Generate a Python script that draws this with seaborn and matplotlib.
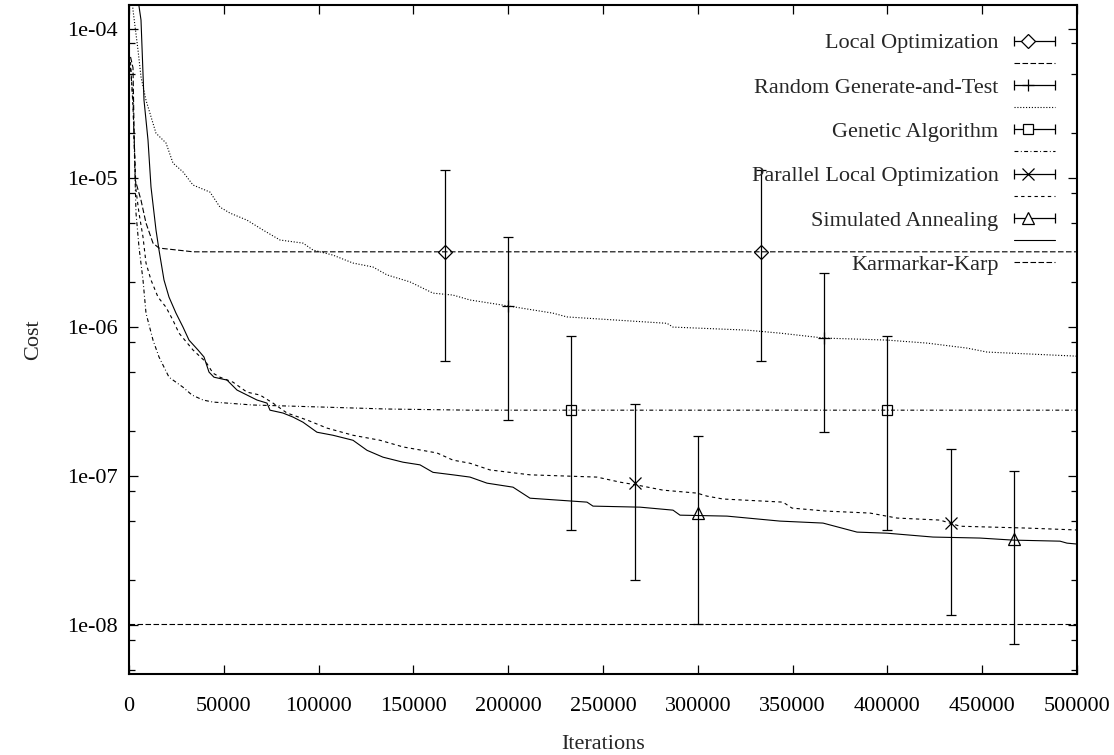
import matplotlib
matplotlib.use("Agg")
import matplotlib.pyplot as plt
import matplotlib.ticker as mticker
from matplotlib.legend_handler import HandlerBase
from matplotlib.lines import Line2D
import numpy as np
import seaborn as sns

# best-so-far curves (iterations, cost)
sa_x = [4700, 6329, 7911, 10021, 11603, 14241, 15823, 18460, 21097, 24789, 28481, 31646, 36392, 39557,
        42194, 44831, 51688, 56962, 62236, 67511, 72785, 74367, 81224, 86498, 91772, 99156, 107595,
        118143, 125527, 133966, 144515, 153481, 160338, 170886, 179852, 188819, 202532, 211498, 241561,
        244726, 269515, 286920, 290612, 315401, 343354, 366034, 383966, 399789, 424051, 448840, 466245,
        491034, 494726, 500000]
sa_y = [1.6e-4, 1.15e-4, 3.33e-5, 1.8e-5, 8.71e-6, 4.48e-6, 3.29e-6, 2.07e-6, 1.59e-6, 1.24e-6, 1.0e-6,
        8.18e-7, 7.02e-7, 6.3e-7, 4.99e-7, 4.61e-7, 4.41e-7, 3.78e-7, 3.5e-7, 3.24e-7, 3.09e-7, 2.77e-7,
        2.65e-7, 2.49e-7, 2.3e-7, 1.97e-7, 1.88e-7, 1.74e-7, 1.49e-7, 1.34e-7, 1.24e-7, 1.19e-7, 1.06e-7,
        1.02e-7, 9.85e-8, 8.97e-8, 8.43e-8, 7.11e-8, 6.69e-8, 6.29e-8, 6.19e-8, 5.91e-8, 5.47e-8, 5.39e-8,
        4.99e-8, 4.84e-8, 4.21e-8, 4.14e-8, 3.9e-8, 3.84e-8, 3.72e-8, 3.66e-8, 3.55e-8, 3.5e-8]

rgt_x = [1500, 2110, 4747, 6329, 8966, 14241, 19515, 23207, 28481, 33755, 42722, 47996, 53270, 62236,
         70675, 79641, 91772, 97046, 107595, 118143, 128692, 136076, 148207, 160338, 170886, 179852,
         200949, 223629, 231013, 283755, 286920, 325949, 343354, 366561, 399789, 420886, 441983, 452532,
         500000]
rgt_y = [1.7e-4, 1.34e-4, 7.23e-5, 4.77e-5, 3.33e-5, 2.0e-5, 1.72e-5, 1.26e-5, 1.1e-5, 8.98e-6, 8.05e-6,
         6.38e-6, 5.82e-6, 5.22e-6, 4.48e-6, 3.84e-6, 3.66e-6, 3.29e-6, 3.04e-6, 2.69e-6, 2.53e-6, 2.24e-6,
         2.01e-6, 1.69e-6, 1.64e-6, 1.52e-6, 1.38e-6, 1.24e-6, 1.17e-6, 1.06e-6, 1.0e-6, 9.54e-7, 9.11e-7,
         8.44e-7, 8.18e-7, 7.81e-7, 7.23e-7, 6.8e-7, 6.38e-7]

lo_x = [800, 2110, 2700, 3300, 6329, 8966, 12658, 15823, 30063, 33755, 500000]
lo_y = [6.5e-5, 5.5e-5, 2.0e-5, 9.7e-6, 7.11e-6, 4.99e-6, 3.66e-6, 3.39e-6, 3.24e-6, 3.2e-6, 3.2e-6]

plo_x = [800, 2110, 3692, 5274, 7384, 8966, 11603, 15295, 19515, 23207, 26371, 33755, 40612, 44304,
         47996, 54852, 62236, 69093, 75949, 83333, 93882, 104430, 118143, 132384, 144515, 162447, 170886,
         179852, 190401, 211498, 246835, 258966, 267932, 281646, 299578, 304852, 313291, 344937, 349684,
         368143, 390823, 405063, 427743, 438291, 473629, 500000]
plo_y = [6.0e-5, 3.0e-5, 8.3e-6, 5.82e-6, 4.02e-6, 2.69e-6, 2.07e-6, 1.59e-6, 1.36e-6, 1.11e-6, 9.11e-7,
         7.02e-7, 5.82e-7, 4.91e-7, 4.61e-7, 4.27e-7, 3.66e-7, 3.5e-7, 3.09e-7, 2.65e-7, 2.38e-7, 2.1e-7,
         1.88e-7, 1.74e-7, 1.57e-7, 1.43e-7, 1.28e-7, 1.22e-7, 1.1e-7, 1.02e-7, 9.85e-8, 9.11e-8, 8.71e-8,
         8.05e-8, 7.69e-8, 7.34e-8, 7.02e-8, 6.69e-8, 6.1e-8, 5.82e-8, 5.65e-8, 5.23e-8, 5.07e-8, 4.61e-8,
         4.48e-8, 4.35e-8]

ga_x = [800, 2110, 3692, 5274, 7384, 8966, 12658, 15823, 21097, 28481, 33228, 39030, 44304, 65401,
        100738, 136076, 179852, 500000]
ga_y = [5.5e-5, 3.33e-5, 5.82e-6, 3.44e-6, 2.07e-6, 1.24e-6, 8.18e-7, 6.3e-7, 4.61e-7, 3.95e-7, 3.5e-7,
        3.24e-7, 3.14e-7, 3.0e-7, 2.91e-7, 2.82e-7, 2.77e-7, 2.77e-7]

kk_x = [0, 500000]
kk_y = [1.02e-8, 1.02e-8]

# error bars: position, mean, low, high
lo_bx = [166667, 333333]
lo_bm = [3.2e-6, 3.2e-6]
lo_bl = [5.95e-7, 5.95e-7]
lo_bh = [1.13e-5, 1.13e-5]

rgt_bx = [200000, 366667]
rgt_bm = [1.38e-6, 8.47e-7]
rgt_bl = [2.38e-7, 1.97e-7]
rgt_bh = [4.04e-6, 2.29e-6]

ga_bx = [233333, 400000]
ga_bm = [2.77e-7, 2.77e-7]
ga_bl = [4.38e-8, 4.38e-8]
ga_bh = [8.75e-7, 8.75e-7]

plo_bx = [266667, 433333]
plo_bm = [8.93e-8, 4.81e-8]
plo_bl = [2.0e-8, 1.17e-8]
plo_bh = [3.03e-7, 1.52e-7]

sa_bx = [300000, 466667]
sa_bm = [5.62e-8, 3.76e-8]
sa_bl = [1.02e-8, 7.43e-9]
sa_bh = [1.85e-7, 1.09e-7]

names = ["Local Optimization", "Random Generate-and-Test", "Genetic Algorithm",
         "Parallel Local Optimization", "Simulated Annealing", "Karmarkar-Karp"]

sns.set_theme(style="ticks")
plt.rcParams["font.family"] = ["Liberation Serif", "DejaVu Serif"]
plt.rcParams["font.size"] = 16

fig = plt.figure(figsize=(11.14, 7.55), dpi=100)
ax = fig.add_axes([129 / 1114, 1 - 674 / 755, 948 / 1114, 669 / 755])
ax.set_yscale("log")

LW = 0.8
styles = {
    "lo": (0, (5, 2.2)),
    "rgt": (0, (1, 1.6)),
    "ga": (0, (3.5, 2.2, 0.8, 2.2)),
    "plo": (0, (3, 3)),
    "sa": "-",
    "kk": (0, (5, 2.2)),
}

curves = [("lo", lo_x, lo_y), ("rgt", rgt_x, rgt_y), ("ga", ga_x, ga_y),
          ("plo", plo_x, plo_y), ("sa", sa_x, sa_y), ("kk", kk_x, kk_y)]
for key, xs, ys in curves:
    sns.lineplot(x=xs, y=ys, ax=ax, color="black", lw=LW, linestyle=styles[key],
                 estimator=None, sort=False)

bars = [("lo", "D", 7, lo_bx, lo_bm, lo_bl, lo_bh),
        ("rgt", "+", 9, rgt_bx, rgt_bm, rgt_bl, rgt_bh),
        ("ga", "s", 7, ga_bx, ga_bm, ga_bl, ga_bh),
        ("plo", "x", 8, plo_bx, plo_bm, plo_bl, plo_bh),
        ("sa", "^", 8, sa_bx, sa_bm, sa_bl, sa_bh)]
for key, mk, ms, bx, bm, bl, bh in bars:
    bm_a = np.array(bm)
    err = [bm_a - np.array(bl), np.array(bh) - bm_a]
    ax.errorbar(bx, bm, yerr=err, fmt=mk, ms=ms, mfc="none", mec="black", mew=0.9,
                ecolor="black", elinewidth=0.9, capsize=3.6, capthick=0.9)


class KeyErrorbar(HandlerBase):
    # gnuplot style key sample: |--o----|
    def create_artists(self, legend, orig_handle, xdescent, ydescent, width, height, fontsize, trans):
        y = height / 2 - ydescent
        x0, x1 = -xdescent, width - xdescent
        bar = Line2D([x0, x1], [y, y], color="black", lw=0.9)
        caps = Line2D([x0, x1], [y, y], ls="none", marker="|", ms=7, mew=0.9, color="black")
        pt = Line2D([x0 + 0.33 * width], [y], ls="none", marker=orig_handle.get_marker(),
                    ms=orig_handle.get_markersize(), mfc="white", mec="black", mew=0.9)
        for a in (bar, caps, pt):
            a.set_transform(trans)
        return [bar, caps, pt]


handles, labels, hmap = [], [], {}
for (key, mk, ms, *_), name in zip(bars, names):
    h = Line2D([], [], marker=mk, ms=ms)
    hmap[h] = KeyErrorbar()
    handles.append(h)
    labels.append(name)
    handles.append(Line2D([], [], color="black", lw=LW, linestyle=styles[key]))
    labels.append("")
handles.append(Line2D([], [], color="black", lw=LW, linestyle=styles["kk"]))
labels.append(names[-1])

ax.legend(handles, labels, handler_map=hmap, loc="upper right", bbox_to_anchor=(0.977, 0.9585),
          frameon=False, markerfirst=False, borderpad=0, borderaxespad=0, handlelength=1.85,
          handletextpad=0.7, labelspacing=0.073, fontsize=16)

ax.set_xlim(0, 500000)
ax.set_ylim(4.7e-9, 1.45e-4)
ax.xaxis.set_major_locator(mticker.MultipleLocator(50000))
ax.xaxis.set_major_formatter(mticker.FuncFormatter(lambda v, p: f"{int(round(v))}"))
ax.yaxis.set_major_locator(mticker.LogLocator(base=10))
ax.yaxis.set_minor_locator(mticker.LogLocator(base=10, subs=(2, 5, 8)))
ax.yaxis.set_minor_formatter(mticker.NullFormatter())
ax.yaxis.set_major_formatter(mticker.FuncFormatter(lambda v, p: f"{v:.0e}"))

ax.tick_params(which="both", direction="in", top=True, right=True, colors="black", labelsize=16)
ax.tick_params(which="major", length=6.5, width=0.9)
ax.tick_params(which="minor", length=4, width=0.9)
ax.tick_params(axis="x", pad=16.5)
ax.tick_params(axis="y", pad=8)
for s in ax.spines.values():
    s.set_linewidth(1.5)
    s.set_color("black")

ax.set_xlabel("Iterations", fontsize=16, va="center")
ax.set_ylabel("Cost", fontsize=16, va="center")
ax.xaxis.set_label_coords(0.5, -0.106)
ax.yaxis.set_label_coords(-0.101, 0.5)

fig.savefig("out.png", dpi=100)
